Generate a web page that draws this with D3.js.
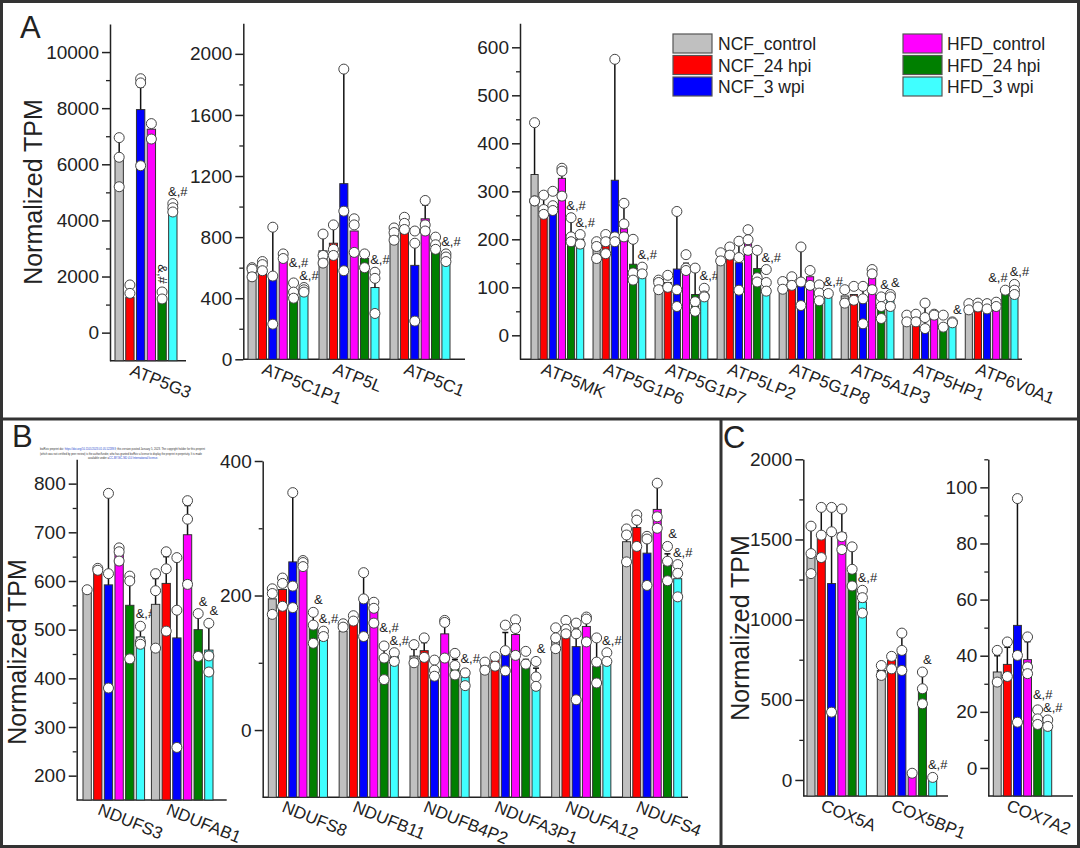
<!DOCTYPE html>
<html>
<head>
<meta charset="utf-8">
<script src="https://cdn.jsdelivr.net/npm/d3@7"></script>
<style>
  body { margin: 0; background: #fff; }
  svg { display: block; font-family: "Liberation Sans", Arial, sans-serif; }
</style>
</head>
<body>
<svg id="chart" width="1080" height="848"></svg>
<script>
// groups, in the order the bars are drawn inside each gene
var series = ["NCF_control", "NCF_24 hpi", "NCF_3 wpi", "HFD_control", "HFD_24 hpi", "HFD_3 wpi"];
var colors = ["#c0c0c0", "#ff0000", "#0000ff", "#ff00ff", "#007f00", "#40ffff"];

// ---- panel A, left axis
var a1Genes = ["ATP5G3"];
var a1Means = [[6150, 1250, 7950, 7250, 1100, 4250]];
var a1Err = [[6850, null, 8750, null, null, null]];
var a1Pts = [[[6950, 6250, 5200], [1700, 1400], [9050, 8900, 5950], [7450, 6900], [1450, 1200], [4600, 4450, 4300]]];
var a1Marks = [["", "", "", "", "&,#", "&,#"]];

// ---- panel A, middle axis
var a2Genes = ["ATP5C1P1", "ATP5L", "ATP5C1"];
var a2Means = [
  [570, 565, 535, 640, 425, 435],
  [710, 760, 1150, 840, 660, 470],
  [820, 840, 615, 920, 710, 630]];
var a2Err = [
  [null, null, 860, null, null, null],
  [800, 860, 1880, null, null, 510],
  [null, null, 740, 1010, null, null]];
var a2Pts = [
  [[600, 590, 540], [640, 620, 580], [865, 545, 230], [690, 660], [500, 440, 400], [470, 455, 440]],
  [[820, 680, 630], [880, 720, 680], [1900, 970, 580], [920, 880, 700], [690, 600], [570, 530, 300]],
  [[860, 830, 780], [930, 890, 850], [840, 760, 250], [1040, 880, 840], [800, 750, 720], [690, 670, 640]]];
var a2Marks = [
  ["", "", "", "", "&,#", "&,#"],
  ["", "", "", "", "", "&,#"],
  ["", "", "", "", "", "&,#"]];

// ---- panel A, right axis
var a3Genes = ["ATP5MK", "ATP5G1P6", "ATP5G1P7", "ATP5LP2", "ATP5G1P8", "ATP5A1P3", "ATP5HP1", "ATP6V0A1"];
var a3Means = [
  [335, 262, 262, 327, 212, 200],
  [182, 193, 323, 222, 148, 125],
  [105, 110, 138, 135, 85, 82],
  [160, 165, 151, 198, 139, 95],
  [97, 103, 111, 122, 75, 80],
  [82, 85, 76, 120, 60, 73],
  [24, 24, 21, 38, 10, 24],
  [59, 59, 52, 52, 87, 83]];
var a3Err = [
  [440, 290, null, 340, 240, null],
  [null, null, 575, 270, 200, null],
  [null, null, 255, 150, 140, null],
  [null, 178, 196, 206, 177, null],
  [null, null, 184, null, null, null],
  [null, null, 102, null, 80, null],
  [null, null, 67, null, null, null],
  [null, null, null, null, 94, 102]];
var a3Pts = [
  [[443, 280, 280], [292, 262, 252], [300, 270, 260], [348, 342, 290], [245, 205, 195], [210, 190]],
  [[195, 185, 160], [210, 195, 170], [575, 205, 195], [275, 232, 205], [200, 130, 115], [142, 128]],
  [[115, 110, 95], [125, 100], [258, 95, 60], [168, 140, 135], [140, 70, 50], [98, 82, 80]],
  [[172, 155], [184, 167], [196, 162, 94], [220, 199, 177], [177, 120, 111], [137, 110, 92]],
  [[112, 96], [122, 104], [184, 111, 62], [135, 104], [105, 88, 72], [87]],
  [[95, 67], [102, 73], [102, 76, 24], [137, 128, 95], [80, 60, 35], [85, 80, 60]],
  [[42, 28], [44, 28], [67, 37, 14], [44, 42], [42, 17], [28, 26]],
  [[66, 53], [67, 59], [66, 55], [69, 60], [94], [106, 94, 85]]];
var a3Marks = [
  ["", "", "", "", "&,#", "&,#"],
  ["", "", "", "", "", "&,#"],
  ["", "", "", "", "", "&,#"],
  ["", "", "", "", "", "&,#"],
  ["", "", "", "", "", "&,#"],
  ["", "", "", "", "&", "&"],
  ["", "", "", "", "", "&"],
  ["", "", "", "", "&,#", "&,#"]];

// ---- panel B, left axis
var b1Genes = ["NDUFS3", "NDUFAB1"];
var b1Means = [
  [585, 625, 592, 658, 550, 485],
  [552, 595, 483, 695, 500, 458]];
var b1Err = [
  [null, null, 780, 668, 600, 500],
  [605, 650, 640, 755, 525, 505]];
var b1Pts = [
  [[582], [626, 622], [780, 615, 380], [668, 660, 641], [610, 600, 440], [507, 475, 470]],
  [[615, 580, 462], [660, 625, 497], [648, 540, 258], [765, 727, 593], [533, 445], [513, 446, 413]]];
var b1Marks = [
  ["", "", "", "", "", "&,#"],
  ["", "", "", "", "&", "&"]];

// ---- panel B, right axis
var b2Genes = ["NDUFS8", "NDUFB11", "NDUFB4P2", "NDUFA3P1", "NDUFA12", "NDUFS4"];
var b2Means = [
  [195, 209, 250, 238, 151, 138],
  [147, 157, 190, 178, 102, 109],
  [110, 118, 91, 143, 92, 79],
  [96, 104, 114, 142, 95, 67],
  [132, 143, 124, 154, 95, 98],
  [280, 301, 263, 328, 245, 225]];
var b2Err = [
  [null, null, 353, 252, 173, null],
  [null, null, 234, null, 120, null],
  [120, 130, null, 155, 105, 88],
  [null, null, 145, 152, 105, 92],
  [null, null, 150, 162, 135, 108],
  [290, 310, 283, 367, 262, null]];
var b2Pts = [
  [[210, 203, 172], [226, 218, 184], [353, 214, 182], [252, 249, 243], [175, 156, 129], [147, 139]],
  [[158, 153], [170, 162], [234, 195, 139], [190, 181, 159], [125, 107, 75], [115, 102]],
  [[127, 100], [137, 108], [104, 89, 80], [163, 160, 107], [114, 96, 82], [85, 66]],
  [[101, 89], [109, 95], [156, 118, 88], [164, 151, 111], [117, 98], [102, 79, 65]],
  [[152, 137, 121], [163, 150, 143], [159, 143, 45], [168, 165, 131], [137, 101, 70], [115, 102]],
  [[299, 290, 250], [320, 312, 273], [288, 284, 215], [367, 317, 300], [273, 251, 222], [246, 233, 198]]];
var b2Marks = [
  ["", "", "", "", "&", "&,#"],
  ["", "", "", "", "&,#", "&,#"],
  ["", "", "", "", "", "&,#"],
  ["", "", "", "", "", "&"],
  ["", "", "", "", "", "&,#"],
  ["", "", "", "", "&", "&,#"]];

// ---- panel C, left axis
var c1Genes = ["COX5A", "COX5BP1"];
var c1Means = [
  [1402, 1506, 1225, 1541, 1291, 1110],
  [683, 746, 790, 25, 558, 10]];
var c1Err = [
  [1583, 1700, 1700, 1690, 1454, null],
  [null, null, 916, null, 673, null]];
var c1Pts = [
  [[1583, 1412, 1287], [1700, 1527, 1387], [1700, 1548, 423], [1690, 1517, 1437], [1454, 1314, 1210], [1183, 1137, 1041]],
  [[714, 652], [771, 693], [916, 808, 683], [42], [673, 569, 475], [16]]];
var c1Marks = [
  ["", "", "", "", "", "&,#"],
  ["", "", "", "", "&", "&,#"]];

// ---- panel C, right axis
var c2Genes = ["COX7A2"];
var c2Means = [[34.2, 36.9, 50.8, 38.6, 16.3, 14.5]];
var c2Err = [[40, 43, 96, 45, null, null]];
var c2Pts = [[[41.9, 30.6], [44.9, 32.6], [96, 40.1, 16.3], [46.7, 36, 33.6], [20.7, 17.5, 15.5], [17.1, 14.8]]];
var c2Marks = [["", "", "", "", "&,#", "&,#"]];

var svg = d3.select("#chart");
var ink = "#222";

function drawPlot(p) {
  var g = svg.append("g");
  var y = d3.scaleLinear().domain(p.domain).range(p.yRange);
  var yBase = p.yRange[0];
  var x0 = d3.scaleBand().domain(p.genes).range(p.bandRange)
    .paddingInner(p.genes.length > 1 ? p.pad : 0).paddingOuter(0);
  var x1 = d3.scaleBand().domain(d3.range(series.length))
    .range([0, x0.bandwidth()]).paddingInner(0.22).paddingOuter(0);
  var bw = x1.bandwidth();

  // y axis, major + minor ticks
  var yAxis = g.append("g").attr("transform", "translate(" + p.axisX + ",0)")
    .call(d3.axisLeft(y).tickValues(p.ticks).tickFormat(d3.format("d"))
      .tickSize(8).tickSizeOuter(0).tickPadding(3));
  yAxis.selectAll("path, line").attr("stroke", ink).attr("stroke-width", 1.5);
  yAxis.selectAll("text").attr("font-size", 19).attr("fill", ink)
    .attr("font-family", "Liberation Sans, Arial, sans-serif");
  var minorAxis = g.append("g").attr("transform", "translate(" + p.axisX + ",0)")
    .call(d3.axisLeft(y).tickValues(p.minor).tickSize(4).tickFormat(""));
  minorAxis.select(".domain").remove();
  minorAxis.selectAll("line").attr("stroke", ink).attr("stroke-width", 1.3);

  // x axis line, no ticks
  g.append("line")
    .attr("x1", p.axisX).attr("x2", p.xEnd)
    .attr("y1", yBase).attr("y2", yBase)
    .attr("stroke", ink).attr("stroke-width", 1.5);

  p.genes.forEach(function(gene, gi) {
    var gx = x0(gene);

    // bars
    p.means[gi].forEach(function(m, si) {
      g.append("rect")
        .attr("x", gx + x1(si)).attr("y", y(m))
        .attr("width", bw).attr("height", yBase - y(m))
        .attr("fill", colors[si]).attr("stroke", "#333").attr("stroke-width", 1);
    });

    // error bars (upper only)
    p.err[gi].forEach(function(e, si) {
      if (e == null) return;
      var cx = gx + x1(si) + bw / 2;
      g.append("line").attr("x1", cx).attr("x2", cx)
        .attr("y1", y(p.means[gi][si])).attr("y2", y(e))
        .attr("stroke", "#111").attr("stroke-width", 1.5);
      g.append("line").attr("x1", cx - 3).attr("x2", cx + 3)
        .attr("y1", y(e)).attr("y2", y(e))
        .attr("stroke", "#111").attr("stroke-width", 1.5);
    });

    // replicate points
    p.pts[gi].forEach(function(list, si) {
      var cx = gx + x1(si) + bw / 2;
      list.forEach(function(v) {
        g.append("circle").attr("cx", cx).attr("cy", y(v)).attr("r", 5)
          .attr("fill", "#fff").attr("stroke", "#444").attr("stroke-width", 1);
      });
    });

    // significance marks
    var placed = [];
    p.marks[gi].forEach(function(txt, si) {
      if (!txt) return;
      var top = d3.max(p.pts[gi][si].concat([p.means[gi][si], p.err[gi][si] || 0]));
      var cx = gx + x1(si) + bw / 2;
      if (p.rotated && p.rotated.indexOf(si) >= 0) {
        g.append("text")
          .attr("transform", "translate(" + (cx - 4) + "," + (y(top) - 18) + ") rotate(90)")
          .attr("text-anchor", "middle")
          .attr("font-size", 13).attr("fill", ink).text(txt);
        return;
      }
      var t = g.append("text").attr("text-anchor", "middle")
        .attr("font-size", 13).attr("fill", ink).text(txt);
      placed.push({el: t, x: cx + 5, y: y(top) - 8, w: t.node().getComputedTextLength()});
    });
    // keep neighbouring marks apart
    for (var k = placed.length - 2; k >= 0; k--) {
      var a = placed[k], b = placed[k + 1];
      var over = (a.x + a.w / 2) - (b.x - b.w / 2) + 1;
      if (over > 0 && Math.abs(a.y - b.y) < 13) {
        if (a.y <= b.y) a.y = b.y - 13;
        else a.x -= over + 1;
      }
    }
    placed.forEach(function(m) { m.el.attr("x", m.x).attr("y", m.y); });

    // gene label
    var lx = gx + x0.bandwidth() / 2 - 17, ly = yBase + 14;
    g.append("text")
      .attr("transform", "translate(" + lx + "," + ly + ") rotate(22)")
      .attr("font-size", 17).attr("fill", ink).text(gene);
  });
}

function yLabel(x, y) {
  svg.append("text")
    .attr("transform", "translate(" + x + "," + y + ") rotate(-90)")
    .attr("text-anchor", "middle").attr("font-size", 25).attr("fill", ink)
    .text("Normalized TPM");
}

// frames
svg.append("rect").attr("x", 1.5).attr("y", 1.5).attr("width", 1077).attr("height", 845)
  .attr("fill", "none").attr("stroke", "#333").attr("stroke-width", 3);
svg.append("line").attr("x1", 0).attr("x2", 1080).attr("y1", 419).attr("y2", 419)
  .attr("stroke", "#333").attr("stroke-width", 3);
svg.append("line").attr("x1", 721).attr("x2", 721).attr("y1", 419).attr("y2", 848)
  .attr("stroke", "#333").attr("stroke-width", 3);

// panel letters
[["A", 20, 38], ["B", 12, 447], ["C", 723, 448]].forEach(function(d) {
  svg.append("text").attr("x", d[1]).attr("y", d[2]).attr("font-size", 31).attr("fill", ink).text(d[0]);
});

yLabel(42, 192);
yLabel(26, 652);
yLabel(749, 628);

drawPlot({genes: a1Genes, means: a1Means, err: a1Err, pts: a1Pts, marks: a1Marks, rotated: [4],
  axisX: 110, xEnd: 186, bandRange: [115, 177], pad: 0,
  domain: [-1000, 11000], yRange: [360.7, 24],
  ticks: d3.range(0, 10001, 2000), minor: d3.range(1000, 10000, 2000)});

drawPlot({genes: a2Genes, means: a2Means, err: a2Err, pts: a2Pts, marks: a2Marks,
  axisX: 243.3, xEnd: 465, bandRange: [248, 450], pad: 0.155,
  domain: [0, 2200], yRange: [359.3, 23.3],
  ticks: d3.range(0, 2001, 400), minor: d3.range(200, 2100, 400)});

drawPlot({genes: a3Genes, means: a3Means, err: a3Err, pts: a3Pts, marks: a3Marks,
  axisX: 520, xEnd: 1022, bandRange: [531, 1018], pad: 0.15,
  domain: [-50, 650], yRange: [359.3, 23.3],
  ticks: d3.range(0, 601, 100), minor: d3.range(50, 600, 100)});

drawPlot({genes: b1Genes, means: b1Means, err: b1Err, pts: b1Pts, marks: b1Marks,
  axisX: 76.7, xEnd: 226.7, bandRange: [83, 213], pad: 0.1,
  domain: [150, 850], yRange: [800, 459.3],
  ticks: d3.range(200, 801, 100), minor: d3.range(250, 800, 100)});

drawPlot({genes: b2Genes, means: b2Means, err: b2Err, pts: b2Pts, marks: b2Marks,
  axisX: 262.7, xEnd: 688, bandRange: [268.3, 681.7], pad: 0.165,
  domain: [-100, 400], yRange: [797.3, 461],
  ticks: [0, 200, 400], minor: [100, 300]});

drawPlot({genes: c1Genes, means: c1Means, err: c1Err, pts: c1Pts, marks: c1Marks,
  axisX: 803.3, xEnd: 948, bandRange: [807, 936.7], pad: 0.155,
  domain: [-100, 2000], yRange: [796, 459.3],
  ticks: d3.range(0, 2001, 500), minor: d3.range(250, 2000, 500)});

drawPlot({genes: c2Genes, means: c2Means, err: c2Err, pts: c2Pts, marks: c2Marks,
  axisX: 988.3, xEnd: 1073, bandRange: [993.3, 1051.7], pad: 0,
  domain: [-10, 110], yRange: [796, 459.3],
  ticks: d3.range(0, 101, 20), minor: d3.range(10, 111, 20)});

// legend
series.forEach(function(name, i) {
  var col = i < 3 ? 0 : 1, row = i % 3;
  var bx = col ? 903 : 673, by = 34 + row * 21.5;
  svg.append("rect").attr("x", bx).attr("y", by).attr("width", 39).attr("height", 19)
    .attr("fill", colors[i]).attr("stroke", "#555").attr("stroke-width", 1.2);
  svg.append("text").attr("x", col ? 947 : 718).attr("y", by + 16)
    .attr("font-size", 17.5).attr("fill", ink).text(name);
});

// preprint notice printed in panel B
var notice = svg.append("g").attr("font-size", 3).attr("fill", "#333");
var n1 = notice.append("text").attr("x", 40).attr("y", 450).attr("textLength", 165).attr("lengthAdjust", "spacingAndGlyphs");
n1.append("tspan").text("bioRxiv preprint doi: ");
n1.append("tspan").attr("fill", "#2244cc").text("https://doi.org/10.1101/2023.01.05.522893");
n1.append("tspan").text("; this version posted January 5, 2023. The copyright holder for this preprint");
notice.append("text").attr("x", 40).attr("y", 454.5).attr("textLength", 162).attr("lengthAdjust", "spacingAndGlyphs")
  .text("(which was not certified by peer review) is the author/funder, who has granted bioRxiv a license to display the preprint in perpetuity. It is made");
var n3 = notice.append("text").attr("x", 88).attr("y", 459).attr("textLength", 70).attr("lengthAdjust", "spacingAndGlyphs");
n3.append("tspan").text("available under a");
n3.append("tspan").attr("fill", "#2244cc").text("CC-BY-NC-ND 4.0 International license");
n3.append("tspan").text(".");
</script>
</body>
</html>
